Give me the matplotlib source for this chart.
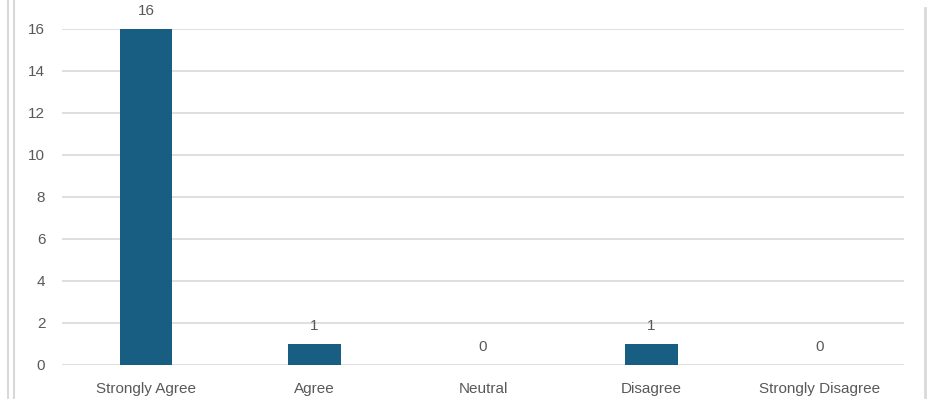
import matplotlib.pyplot as plt
from matplotlib.lines import Line2D

categories = ["Strongly Agree", "Agree", "Neutral", "Disagree", "Strongly Disagree"]
counts = [16, 1, 0, 1, 0]

W, H = 928, 399
bar_color = "#175E82"
text_color = "#595959"
grid_color = "#D9D9D9"

plt.rcParams['font.family'] = ['Liberation Sans', 'DejaVu Sans']

fig = plt.figure(figsize=(W / 100, H / 100), dpi=100)
ax = fig.add_axes([62 / W, 34 / H, (904 - 62) / W, (365 - 29) / H])

x = list(range(len(categories)))
ax.bar(x, counts, width=0.31, color=bar_color, zorder=3)

for xi, v in zip(x, counts):
    ax.annotate(str(v), (xi, v), xytext=(0, 8), textcoords="offset points",
                ha="center", va="bottom", fontsize=11, color=text_color,
                annotation_clip=False)

ax.set_xlim(-0.5, len(categories) - 0.5)
ax.set_ylim(0, 16)
ax.set_yticks(range(0, 17, 2))
ax.set_xticks(x)
ax.set_xticklabels(categories)
ax.tick_params(axis="both", length=0, labelsize=11, labelcolor=text_color)
ax.tick_params(axis="x", pad=12)
ax.tick_params(axis="y", pad=12)
ax.grid(axis="y", color=grid_color, linewidth=1.2, zorder=0)
for s in ax.spines.values():
    s.set_visible(False)

# outer frame lines of the chart area
fig.add_artist(Line2D([8 / W, 8 / W], [0, 1], color=grid_color, linewidth=1.5))
fig.add_artist(Line2D([14 / W, 14 / W], [0, 1], color=grid_color, linewidth=1.5))
fig.add_artist(Line2D([925 / W, 925 / W], [0, 1 - 8 / H], color=grid_color, linewidth=2))

fig.savefig("out.png", dpi=100)
